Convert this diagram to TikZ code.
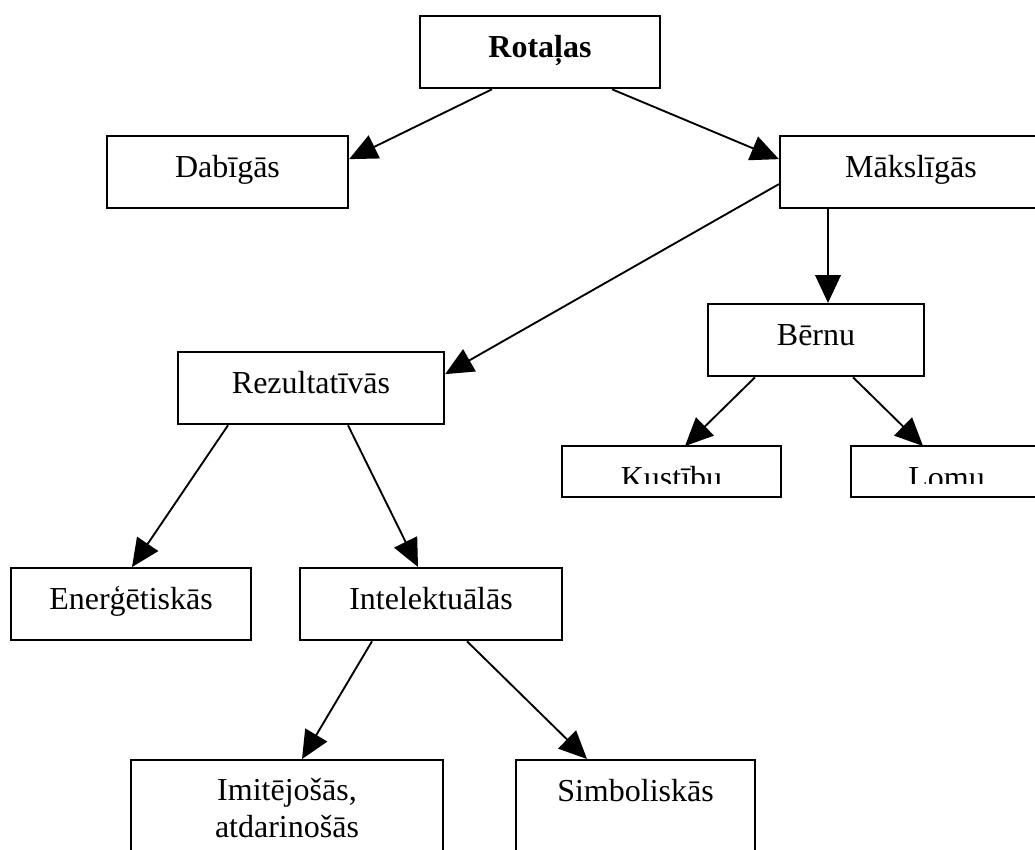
\documentclass[tikz,border=0pt]{standalone}
\usepackage{fontspec}
\setmainfont{Liberation Serif}
\usetikzlibrary{arrows.meta}
\newcommand{\pxu}{0.375pt}
\begin{document}
\begin{tikzpicture}[x=0.375pt, y=-0.375pt]
    \tikzstyle{box}=[rectangle, draw, line width=0.85pt, anchor=north, inner xsep=0pt, inner ysep=10*\pxu, text height=31*\pxu, text depth=21*\pxu, font=\fontsize{12}{13.8}\selectfont]
    \tikzstyle{low}=[inner ysep=2*\pxu, text height=39*\pxu, text depth=6*\pxu]
    \tikzstyle{tall}=[text depth=60*\pxu]
    \tikzstyle{twoline}=[align=center, text height=67*\pxu, text depth=24*\pxu]
    \tikzstyle{link}=[-{Triangle[length=10.5pt, width=9.5pt]}, line width=0.7pt]
    \useasboundingbox (0,0) rectangle (1035,849);
    \clip (0,0) rectangle (1035,849);

    \node (rot) [box, minimum width=240*\pxu] at (540,15) {\textbf{Rotaļas}};
    \node (dab) [box, minimum width=241*\pxu] at (227.5,135) {Dabīgās};
    \node (mak) [box, minimum width=262*\pxu] at (911,135) {Mākslīgās};
    \node (ber) [box, minimum width=216*\pxu] at (816,303) {Bērnu};
    \node (rez) [box, minimum width=266*\pxu] at (311,351) {Rezultatīvās};
    \node (ene) [box, minimum width=240*\pxu] at (131,567) {Enerģētiskās};
    \node (int) [box, minimum width=262*\pxu] at (431,567) {Intelektuālās};
    \node (imi) [box, twoline, minimum width=312*\pxu] at (287,759) {Imitējošās,\\atdarinošās};
    \node (sim) [box, tall, minimum width=239*\pxu] at (635.5,759) {Simboliskās};

    % text of the two small boxes is cut off
    \begin{scope}
        \clip (0,0) rectangle (1035,483);
        \node (kus) [box, low, draw=none, minimum width=217*\pxu] at (671.5,446) {Kustību};
        \node (lom) [box, low, draw=none, minimum width=189*\pxu] at (946.5,446) {Lomu};
    \end{scope}
    \draw [line width=0.85pt] (kus.north west) rectangle (kus.south east);
    \draw [line width=0.85pt] (lom.north west) rectangle (lom.south east);

    \draw [link] ([xshift=-48*\pxu]rot.south) -- ([yshift=13*\pxu]dab.east);
    \draw [link] ([xshift=72*\pxu]rot.south) -- ([yshift=13*\pxu]mak.west);
    \draw [link] ([yshift=-12*\pxu]mak.west) -- ([yshift=14*\pxu]rez.east);
    \draw [link, line width=1.1pt] ([xshift=-83*\pxu]mak.south) -- ([xshift=12*\pxu]ber.north);

    \draw [link] ([xshift=-61*\pxu]ber.south) -- ([xshift=13.5*\pxu]kus.north);
    \draw [link] ([xshift=37*\pxu]ber.south) -- ([xshift=-23.5*\pxu]lom.north);

    \draw [link] ([xshift=-83*\pxu]rez.south) -- ([xshift=1*\pxu]ene.north);
    \draw [link] ([xshift=37*\pxu]rez.south) -- ([xshift=-13*\pxu]int.north);

    \draw [link] ([xshift=-59*\pxu]int.south) -- ([xshift=15*\pxu]imi.north);
    \draw [link] ([xshift=36*\pxu]int.south) -- ([xshift=-48.5*\pxu]sim.north);
\end{tikzpicture}
\end{document}
